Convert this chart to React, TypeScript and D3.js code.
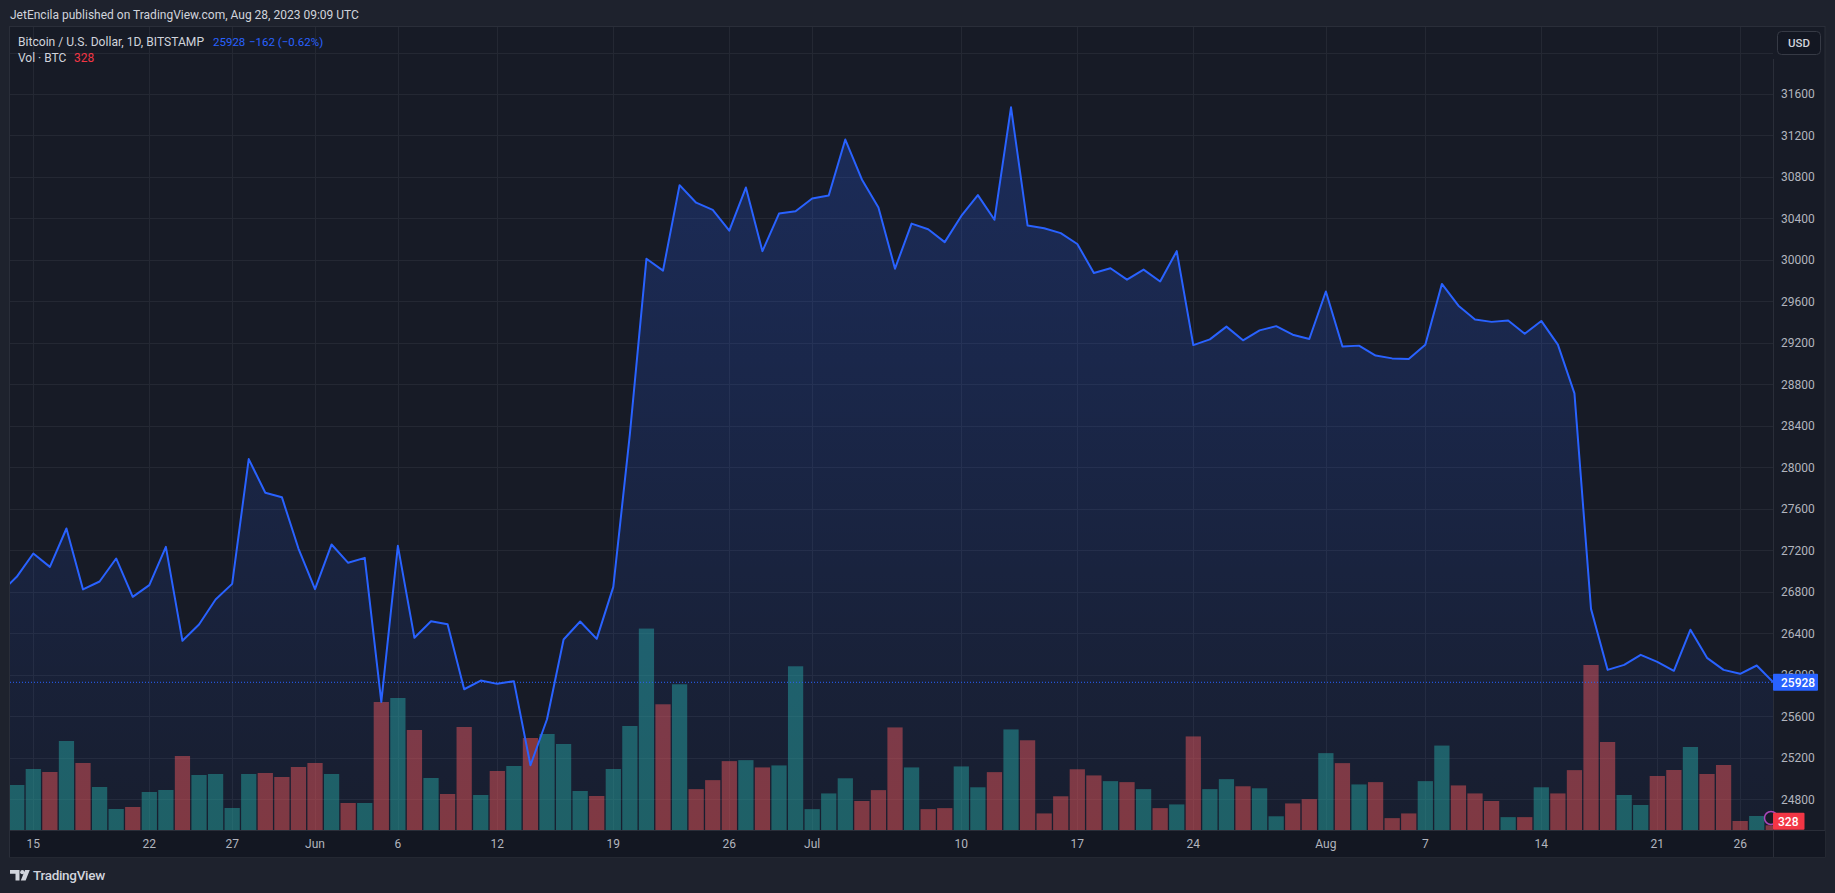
import React from 'react';
import * as d3 from 'd3';

// ---------- DATA ----------
const startDay = '2023-05-13';
const endDay = '2023-08-28';

const closesMay = [26790, 26945, 27170, 27041, 27411, 26823, 26900, 27122, 26752, 26865, 27234, 26328, 26485, 26726, 26877, 28080, 27755, 27713, 27218];
const closesJun = [26826, 27257, 27080, 27128, 25739, 27244, 26357, 26517, 26488, 25861, 25945, 25913, 25939, 25128, 25572, 26341, 26514, 26347, 26848, 28320, 30012, 29897, 30721, 30552, 30483, 30282, 30698, 30085, 30447, 30469];
const closesJul = [30593, 30621, 31161, 30776, 30506, 29916, 30350, 30296, 30172, 30424, 30625, 30387, 31472, 30332, 30305, 30259, 30154, 29874, 29920, 29810, 29907, 29792, 30085, 29179, 29234, 29357, 29225, 29321, 29362, 29279, 29238];
const closesAug = [29696, 29165, 29174, 29078, 29051, 29046, 29183, 29769, 29559, 29426, 29403, 29417, 29289, 29412, 29183, 28713, 26636, 26048, 26096, 26193, 26125, 26039, 26435, 26164, 26048, 26010, 26090, 25928];

const volMay = [1900, 3150, 4270, 4060, 6230, 4690, 3010, 1470, 1610, 2660, 2800, 5180, 3850, 3920, 1540, 3920, 3990, 3710, 4410];
const volJun = [4690, 3920, 1890, 1890, 8960, 9240, 7000, 3640, 2520, 7210, 2450, 4130, 4480, 6440, 6720, 6020, 2730, 2380, 4270, 7280, 14100, 8800, 10200, 2860, 3490, 4820, 4890, 4380, 4520, 11460];
const volJul = [1460, 2560, 3620, 2030, 2790, 7180, 4380, 1460, 1530, 4450, 2990, 4050, 7040, 6280, 1160, 2360, 4250, 3820, 3420, 3350, 2860, 1530, 1790, 6550, 2860, 3560, 3060, 2920, 960, 1860, 2160];
const volAug = [5380, 4680, 3190, 3350, 830, 1160, 3420, 5910, 3120, 2560, 2030, 900, 900, 2990, 2560, 4190, 11550, 6160, 2450, 1750, 3780, 4200, 5810, 3920, 4550, 630, 980, 328];

const priceTicks = [24800, 25200, 25600, 26000, 26400, 26800, 27200, 27600, 28000, 28400, 28800, 29200, 29600, 30000, 30400, 30800, 31200, 31600];
const gridPrices = [24800, 25200, 25600, 26000, 26400, 26800, 27200, 27600, 28000, 28400, 28800, 29200, 29600, 30000, 30400, 30800, 31200, 31600, 32000];

const timeTickDates = ['2023-05-15', '2023-05-22', '2023-05-27', '2023-06-01', '2023-06-06', '2023-06-12', '2023-06-19', '2023-06-26', '2023-07-01', '2023-07-10', '2023-07-17', '2023-07-24', '2023-08-01', '2023-08-07', '2023-08-14', '2023-08-21', '2023-08-26'];
const timeTickLabels = ['15', '22', '27', 'Jun', '6', '12', '19', '26', 'Jul', '10', '17', '24', 'Aug', '7', '14', '21', '26'];

const headerText = 'JetEncila published on TradingView.com, Aug 28, 2023 09:09 UTC';
const symbolText = 'Bitcoin / U.S. Dollar, 1D, BITSTAMP';
const lastPriceText = '25928';
const changeText = '\u2212162 (\u22120.62%)';
const volLegend = 'Vol \u00b7 BTC';
const lastVolText = '328';

// ---------- LAYOUT ----------
const W = 1835;
const H = 893;
const plot = { left: 10, right: 1773, top: 27, bottom: 830 };
const axisRight = 1825;
const timeAxisBottom = 857;
const FONT = "Roboto, 'DejaVu Sans', sans-serif";

const parse = d3.utcParse('%Y-%m-%d');

export default function App() {
  const days = d3.utcDay.range(parse(startDay)!, d3.utcDay.offset(parse(endDay)!, 1));
  const closes = [...closesMay, ...closesJun, ...closesJul, ...closesAug];
  const volumes = [...volMay, ...volJun, ...volJul, ...volAug];
  const data = days.map((d, i) => ({
    date: d,
    close: closes[i],
    vol: volumes[i],
    up: i === 0 ? true : closes[i] >= closes[i - 1],
  }));

  const x = d3.scaleUtc().domain([days[0], days[days.length - 1]]).range([0.16, 1773.3]);
  const y = d3.scaleLinear().domain([24800, 31600]).range([799.3, 94]);
  const yv = d3.scaleLinear().domain([0, 14000]).range([plot.bottom, plot.bottom - 200]);
  const step = x(days[1]) - x(days[0]);
  const barW = step * 0.92;

  const line = d3.line<typeof data[0]>().x((d) => x(d.date)).y((d) => y(d.close));
  const area = d3
    .area<typeof data[0]>()
    .x((d) => x(d.date))
    .y0(plot.bottom)
    .y1((d) => y(d.close));

  const maxClose = d3.max(closes)!;
  const last = data[data.length - 1];
  const lastY = y(last.close);
  const lastVolY = yv(last.vol);

  React.useEffect(() => {
    document.body.style.margin = '0';
    document.body.style.background = '#1e222d';
  }, []);

  return (
    <svg
      width={W}
      height={H}
      viewBox={`0 0 ${W} ${H}`}
      style={{ position: 'absolute', left: 0, top: 0, display: 'block' }}
      fontFamily={FONT}
    >
      <defs>
        <clipPath id="plotClip">
          <rect x={plot.left} y={plot.top} width={plot.right - plot.left} height={plot.bottom - plot.top} />
        </clipPath>
        <linearGradient id="areaGrad" gradientUnits="userSpaceOnUse" x1={0} x2={0} y1={y(maxClose)} y2={plot.bottom}>
          <stop offset="0%" stopColor="#2962ff" stopOpacity={0.24} />
          <stop offset="100%" stopColor="#2962ff" stopOpacity={0.04} />
        </linearGradient>
      </defs>

      {/* page background */}
      <rect x={0} y={0} width={W} height={H} fill="#1e222d" />

      {/* header */}
      <text x={10} y={18.5} fontSize={12} fill="#d1d4dc">
        {headerText}
      </text>

      {/* panel */}
      <rect x={9.5} y={26.5} width={axisRight - 9.5} height={timeAxisBottom - 26.5} fill="#171b26" stroke="#2a2e39" />
      {/* time axis band */}
      <rect x={10} y={plot.bottom} width={axisRight - 10} height={timeAxisBottom - plot.bottom} fill="#131722" />

      {/* grid */}
      <g clipPath="url(#plotClip)">
        {gridPrices.map((p) => (
          <line key={p} x1={plot.left} x2={plot.right} y1={Math.round(y(p)) + 0.5} y2={Math.round(y(p)) + 0.5} stroke="#242833" />
        ))}
        {timeTickDates.map((t) => {
          const xx = Math.round(x(parse(t)!)) + 0.5;
          return <line key={t} x1={xx} x2={xx} y1={plot.top} y2={plot.bottom} stroke="#242833" />;
        })}
      </g>

      {/* volume, area, line */}
      <g clipPath="url(#plotClip)">
        {data.map((d) => (
          <rect
            key={+d.date}
            x={x(d.date) - barW / 2}
            y={yv(d.vol)}
            width={barW}
            height={plot.bottom - yv(d.vol)}
            fill={d.up ? 'rgba(38,166,154,0.5)' : 'rgba(239,83,80,0.5)'}
          />
        ))}
        <path d={area(data)!} fill="url(#areaGrad)" />
        <path d={line(data)!} fill="none" stroke="#2962ff" strokeWidth={2} strokeLinejoin="round" />
        <line x1={plot.left} x2={plot.right} y1={lastY} y2={lastY} stroke="#2962ff" strokeWidth={1} strokeDasharray="1 2" />
      </g>

      {/* axis borders */}
      <line x1={plot.right + 0.5} x2={plot.right + 0.5} y1={59} y2={timeAxisBottom} stroke="#2a2e39" />
      <line x1={plot.left} x2={axisRight} y1={plot.bottom + 0.5} y2={plot.bottom + 0.5} stroke="#2a2e39" />

      {/* price axis labels */}
      {priceTicks.map((p) => (
        <text key={p} x={1781} y={y(p)} dy="0.36em" fontSize={12} fill="#b2b5be">
          {p}
        </text>
      ))}

      {/* time axis labels */}
      {timeTickDates.map((t, i) => (
        <text key={t} x={x(parse(t)!)} y={844} dy="0.36em" textAnchor="middle" fontSize={12} fill="#b2b5be">
          {timeTickLabels[i]}
        </text>
      ))}

      {/* last price label */}
      <rect x={plot.right} y={lastY - 8.5} width={45} height={17} fill="#2962ff" rx={1} />
      <text x={1781} y={lastY} dy="0.36em" fontSize={12} fill="#ffffff" fontWeight={500}>
        {lastPriceText}
      </text>

      {/* last volume label */}
      <circle cx={1771} cy={818} r={6.5} fill="#171b26" stroke="#ab47bc" strokeWidth={1.5} />
      <rect x={plot.right} y={lastVolY - 12.5} width={31.5} height={17} fill="#f23645" rx={1} />
      <text x={1778} y={lastVolY - 4} dy="0.36em" fontSize={12} fill="#ffffff" fontWeight={500}>
        {lastVolText}
      </text>

      {/* legend */}
      <text x={18} y={45.5} fontSize={12.1} fill="#d1d4dc">
        {symbolText}
      </text>
      <text x={213} y={45.5} fontSize={11.5} fill="#2962ff">
        {lastPriceText}
      </text>
      <text x={249} y={45.5} fontSize={11.5} fill="#2962ff">
        {changeText}
      </text>
      <text x={18} y={62.3} fontSize={12} fill="#d1d4dc">
        {volLegend}
      </text>
      <text x={74} y={62.3} fontSize={12} fill="#f23645">
        {lastVolText}
      </text>

      {/* currency button */}
      <rect x={1777.5} y={31.5} width={43} height={23} rx={4} fill="#131722" stroke="#363a45" />
      <text x={1799} y={43} dy="0.36em" textAnchor="middle" fontSize={11.5} fill="#d1d4dc" fontWeight={500}>
        USD
      </text>

      {/* TradingView logo */}
      <g fill="#d1d4dc">
        <path d="M10 870 H19.5 V880.5 H15.5 V873.8 H10 Z" />
        <circle cx={22.3} cy={872.2} r={2.1} />
        <path d="M25 870 H29.8 L25.6 880.5 H20.8 Z" />
        <text x={33} y={880} fontSize={13.5} fontWeight={500} letterSpacing={-0.3}>
          TradingView
        </text>
      </g>
    </svg>
  );
}
